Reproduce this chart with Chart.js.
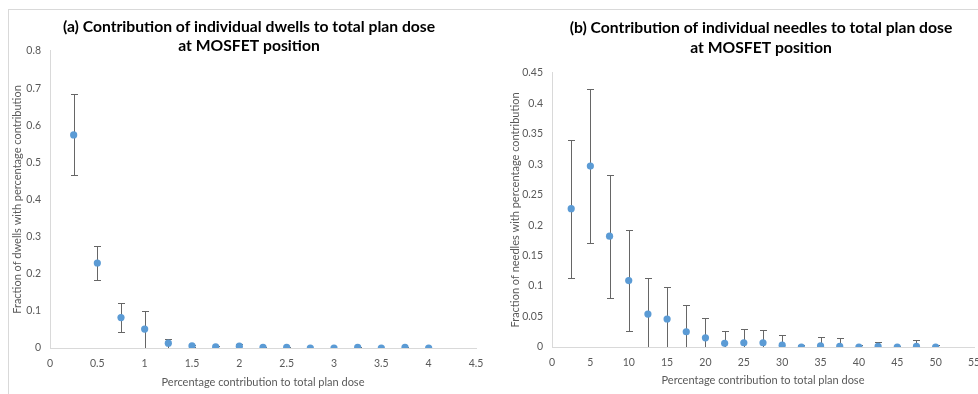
<!DOCTYPE html>
<html>
<head>
<meta charset="utf-8">
<script src="https://cdn.jsdelivr.net/npm/chart.js@4.4.1/dist/chart.umd.min.js"></script>
<style>
  html, body { margin: 0; padding: 0; background: #ffffff; overflow: hidden; width: 978px; height: 394px; }
  #frame { position: absolute; left: 8px; top: 9px; width: 1000px; height: 420px; border: 1px solid #d9d9d9; box-sizing: border-box; }
  .panel { position: absolute; top: 0; }
  #dwellPanel { left: 0; }
  #needlePanel { left: 490px; }
</style>
</head>
<body>
<div id="frame"></div>
<div class="panel" id="dwellPanel"><canvas id="dwellChart" width="498" height="394"></canvas></div>
<div class="panel" id="needlePanel"><canvas id="needleChart" width="542" height="394"></canvas></div>
<script>
// (a) individual dwell positions
const dwellContribution = [0.25, 0.5, 0.75, 1, 1.25, 1.5, 1.75, 2, 2.25, 2.5, 2.75, 3, 3.25, 3.5, 3.75, 4];
const dwellFraction     = [0.574, 0.229, 0.082, 0.051, 0.013, 0.006, 0.003, 0.005, 0.002, 0.002, 0.000, 0.000, 0.002, 0.000, 0.002, 0.000];
const dwellError        = [0.109, 0.047, 0.040, 0.050, 0.012, 0.003, 0.002, 0.007, 0.001, 0.001, 0.001, 0.001, 0.001, 0.001, 0.001, 0.001];
const dwellTicksX = ['0', '0.5', '1', '1.5', '2', '2.5', '3', '3.5', '4', '4.5'];
const dwellTicksY = ['0', '0.1', '0.2', '0.3', '0.4', '0.5', '0.6', '0.7', '0.8'];

// (b) individual needles
const needleContribution = [2.5, 5, 7.5, 10, 12.5, 15, 17.5, 20, 22.5, 25, 27.5, 30, 32.5, 35, 37.5, 40, 42.5, 45, 47.5, 50];
const needleFraction     = [0.227, 0.297, 0.182, 0.109, 0.054, 0.046, 0.025, 0.015, 0.006, 0.007, 0.007, 0.003, 0.000, 0.002, 0.001, 0.000, 0.001, 0.000, 0.001, 0.000];
const needleError        = [0.113, 0.126, 0.101, 0.083, 0.060, 0.052, 0.044, 0.032, 0.021, 0.023, 0.021, 0.017, 0.004, 0.015, 0.014, 0.004, 0.008, 0.002, 0.011, 0.004];
const needleTicksX = ['0', '5', '10', '15', '20', '25', '30', '35', '40', '45', '50', '55'];
const needleTicksY = ['0', '0.05', '0.1', '0.15', '0.2', '0.25', '0.3', '0.35', '0.4', '0.45'];

const FONT = 'Lato, "Open Sans", sans-serif';
const GREY_TEXT = '#595959';
const AXIS_LINE = '#d9d9d9';
const MARKER = '#5b9bd5';

// Symmetric error bars with end caps, clipped to the plot area
const errorBars = {
  id: 'errorBars',
  beforeDatasetsDraw(chart) {
    const { ctx, chartArea, scales } = chart;
    ctx.save();
    ctx.beginPath();
    ctx.rect(chartArea.left, chartArea.top, chartArea.right - chartArea.left, chartArea.bottom - chartArea.top);
    ctx.clip();
    ctx.strokeStyle = '#666666';
    ctx.lineWidth = 1;
    chart.data.datasets.forEach(ds => {
      if (!ds.errors) return;
      ds.data.forEach((pt, i) => {
        const e = ds.errors[i];
        const x = Math.round(scales.x.getPixelForValue(pt.x)) + 0.5;
        const yTop = Math.round(scales.y.getPixelForValue(pt.y + e)) + 0.5;
        const yBot = Math.round(scales.y.getPixelForValue(pt.y - e)) + 0.5;
        ctx.beginPath();
        ctx.moveTo(x, yTop); ctx.lineTo(x, yBot);
        ctx.moveTo(x - 3.5, yTop); ctx.lineTo(x + 3.5, yTop);
        ctx.moveTo(x - 3.5, yBot); ctx.lineTo(x + 3.5, yBot);
        ctx.stroke();
      });
    });
    ctx.restore();
  }
};

function makeChart(canvasId, cfg) {
  const points = cfg.xs.map((x, i) => ({ x: x, y: cfg.ys[i] }));
  return new Chart(document.getElementById(canvasId), {
    type: 'scatter',
    data: {
      datasets: [{
        data: points,
        errors: cfg.errs,
        backgroundColor: MARKER,
        borderColor: MARKER,
        borderWidth: 0,
        pointRadius: 3.6,
        showLine: false
      }]
    },
    plugins: [errorBars],
    options: {
      responsive: false,
      animation: false,
      devicePixelRatio: 1,
      layout: { padding: 0 },
      plugins: {
        legend: { display: false },
        tooltip: { enabled: false },
        title: {
          display: true,
          text: cfg.title,
          color: '#000000',
          font: { family: FONT, size: 15.7, weight: 'bold', lineHeight: cfg.titleLH },
          padding: { top: cfg.titleTop, bottom: cfg.titleBottom }
        }
      },
      scales: {
        x: {
          type: 'linear',
          min: cfg.xMin, max: cfg.xMax,
          afterFit: s => { s.height = cfg.xHeight; },
          grid: { display: false, drawTicks: false },
          border: { display: true, color: AXIS_LINE, width: 1 },
          ticks: {
            stepSize: cfg.xStep, padding: 9, color: GREY_TEXT,
            font: { family: FONT, size: 10.5 },
            maxRotation: 0, autoSkip: false,
            callback: (v, i) => cfg.xTicks[i]
          },
          title: {
            display: true, text: 'Percentage contribution to total plan dose',
            color: GREY_TEXT, font: { family: FONT, size: 11, lineHeight: 1.2 },
            padding: { top: 0, bottom: cfg.xTitleBottom }
          }
        },
        y: {
          type: 'linear',
          position: 'left',
          min: 0, max: cfg.yMax,
          afterFit: s => { s.width = cfg.yWidth; },
          grid: { display: false, drawTicks: false },
          border: { display: true, color: AXIS_LINE, width: 1 },
          ticks: {
            stepSize: cfg.yStep, padding: 9, color: GREY_TEXT,
            font: { family: FONT, size: 10.5 },
            autoSkip: false,
            callback: (v, i) => cfg.yTicks[i]
          },
          title: {
            display: true, text: cfg.yTitle,
            color: GREY_TEXT, font: { family: FONT, size: 11, lineHeight: 1.2 },
            padding: { top: cfg.yTitleTop, bottom: 0 }
          }
        },
        // empty right-hand margin so the chart title centres over the whole panel
        margin: {
          type: 'linear',
          position: 'right',
          afterFit: s => { s.width = cfg.rightMargin; },
          grid: { display: false, drawTicks: false },
          border: { display: false },
          ticks: { display: false }
        }
      }
    }
  });
}

makeChart('dwellChart', {
  xs: dwellContribution, ys: dwellFraction, errs: dwellError,
  title: ['(a) Contribution of individual dwells to total plan dose', 'at MOSFET position'],
  titleLH: 1.21, titleTop: 17.5, titleBottom: -4.5,
  xMin: 0, xMax: 4.5, xStep: 0.5, xTicks: dwellTicksX,
  yMax: 0.8, yStep: 0.1, yTicks: dwellTicksY,
  yTitle: 'Fraction of dwells with percentage contribution',
  yWidth: 50, rightMargin: 22, xHeight: 46, xTitleBottom: 5.4, yTitleTop: 10.4
});

makeChart('needleChart', {
  xs: needleContribution, ys: needleFraction, errs: needleError,
  title: ['(b) Contribution of individual needles to total plan dose', 'at MOSFET position'],
  titleLH: 1.27, titleTop: 18, titleBottom: 15,
  xMin: 0, xMax: 55, xStep: 5, xTicks: needleTicksX,
  yMax: 0.45, yStep: 0.05, yTicks: needleTicksY,
  yTitle: 'Fraction of needles with percentage contribution',
  yWidth: 62, rightMargin: 58, xHeight: 47, xTitleBottom: 7.4, yTitleTop: 18.4
});
</script>
</body>
</html>
